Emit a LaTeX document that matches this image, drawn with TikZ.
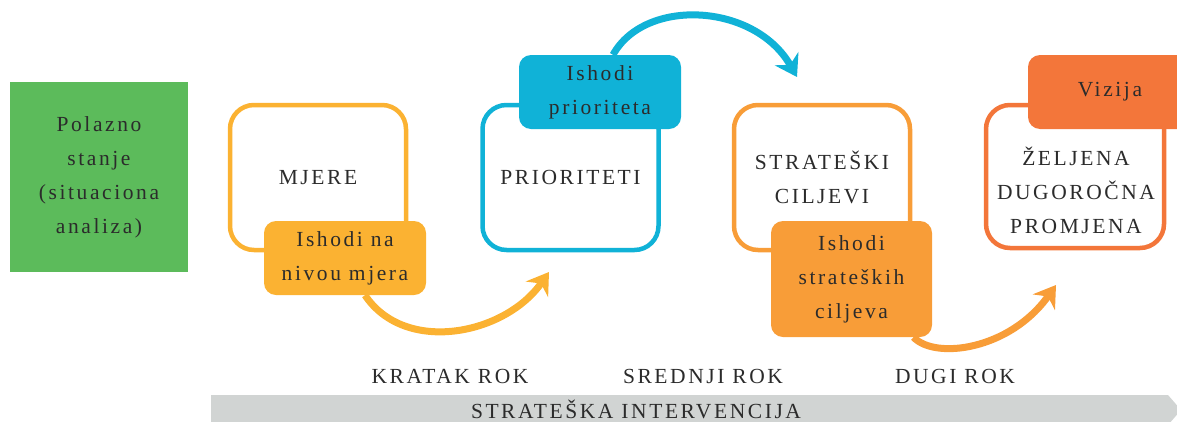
\documentclass[tikz,border=0pt]{standalone}
\usepackage{fontspec}
\setmainfont{Liberation Serif}[LetterSpace=12]
\usetikzlibrary{arrows.meta,calc}

\definecolor{cGreen}{HTML}{5CBB5B}
\definecolor{cYellow}{HTML}{FBB232}
\definecolor{cBlue}{HTML}{10B2D7}
\definecolor{cOrange}{HTML}{F89D38}
\definecolor{cRed}{HTML}{F3763A}
\definecolor{cBar}{HTML}{D1D4D3}
\definecolor{cText}{HTML}{2B2B2B}

\tikzset{
  txt/.style={text=cText, align=center, font=\fontsize{21.5}{34}\selectfont, inner sep=0pt},
  frame/.style={draw=#1, line width=4.5pt, rounded corners=24pt, fill=white,
    minimum width=176pt, minimum height=145pt, inner sep=0pt, txt},
  tag/.style={fill=#1, rounded corners=12pt, minimum width=162pt,
    minimum height=74pt, inner sep=0pt, txt},
  flow/.style={draw=#1, line width=7pt,
    -{Stealth[length=21pt, width=27pt, inset=7pt]}},
}

\begin{document}
\begin{tikzpicture}[x=1pt, y=-1pt]
  \useasboundingbox (0,0) rectangle (1177,421);
  \clip (0,0) rectangle (1177,421);

  % starting point
  \node[txt, fill=cGreen, minimum width=178pt, minimum height=190pt]
    (start) at (99,177) {Polazno\\stanje\\(situaciona\\analiza)};

  % stage frames
  \node[frame=cYellow] (mjere) at (318,177.5) {MJERE};
  \node[frame=cBlue]   (prio)  at (570.5,177.5) {PRIORITETI};
  \node[frame=cOrange] (strat) at (822,177.5) {STRATEŠKI\\CILJEVI};
  \node[frame=cRed, minimum width=178pt, minimum height=143pt] (zelj) at (1075,176.5) {};
  \node[txt] (zeljtxt) at (1076,190) {ŽELJENA\\DUGOROČNA\\PROMJENA};

  % outcome tags
  \node[tag=cYellow] (ishA) at (345,258) {Ishodi na\\nivou mjera};
  \node[tag=cBlue]   (ishB) at (600,92) {Ishodi\\prioriteta};
  \node[tag=cOrange, minimum width=161pt, minimum height=116pt]
    (ishC) at (851.5,279) {Ishodi\\strateških\\ciljeva};
  \node[tag=cRed, minimum width=164pt] (viz) at (1110,92) {Vizija};

  % arrow targets
  \coordinate (tipA) at (549,272);
  \coordinate (tipB) at (797,77);
  \coordinate (tipC) at (1056,285);

  % connecting arrows
  \draw[flow=cYellow] ([xshift=20pt]ishA.south) .. controls (405,355) and (505,335) .. (tipA);
  \draw[flow=cBlue]   ([xshift=13pt]ishB.north) .. controls (645,-3) and (755,3) .. (tipB);
  \draw[flow=cOrange] ([xshift=62pt]ishC.south) .. controls (935,360) and (1010,350) .. (tipC);

  % time horizon labels
  \node[txt] (kratak)  at (450,376) {KRATAK ROK};
  \node[txt] (srednji) at (703,376) {SREDNJI ROK};
  \node[txt] (dugi)    at (955,376) {DUGI ROK};

  % intervention bar
  \fill[cBar] (211,395) -- (1168,395) -- (1181,410) -- (1168,425) -- (211,425) -- cycle;
  \node[txt] (interv) at (636,409) {STRATEŠKA INTERVENCIJA};
\end{tikzpicture}
\end{document}
